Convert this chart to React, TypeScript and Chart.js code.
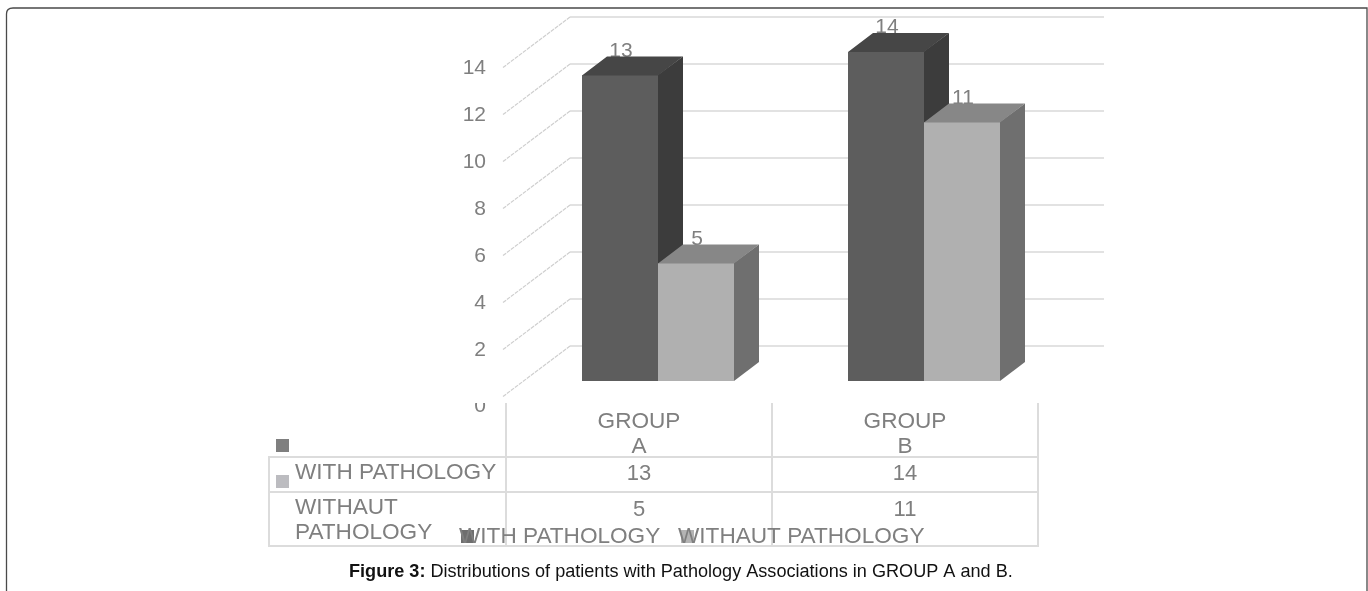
import React, { useEffect, useRef } from "react";
import { Chart, registerables } from "chart.js";

Chart.register(...registerables);

const categories = [["GROUP", "A"], ["GROUP", "B"]];
const withPathology = [13, 14];
const withoutPathology = [5, 11];
const seriesNames = ["WITH PATHOLOGY", "WITHAUT PATHOLOGY"];
const yTicks = [0, 2, 4, 6, 8, 10, 12, 14];

const FONT = '"Liberation Sans", Arial, sans-serif';
const GREY = "#7f7f7f";
const GRID = "#d9d9d9";
const DEPTH_X = 25;
const DEPTH_Y = 19;
const faces = [
  { top: "#464646", side: "#3c3c3c" },
  { top: "#878787", side: "#6f6f6f" },
];

const text = (ctx: any, s: string, x: number, y: number, font: string, color = GREY, align: any = "center") => {
  ctx.font = font;
  ctx.fillStyle = color;
  ctx.textAlign = align;
  ctx.textBaseline = "middle";
  ctx.fillText(s, x, y);
};

const poly = (ctx: any, pts: number[][], color: string) => {
  ctx.fillStyle = color;
  ctx.beginPath();
  pts.forEach(([x, y], i) => (i ? ctx.lineTo(x, y) : ctx.moveTo(x, y)));
  ctx.closePath();
  ctx.fill();
};

const scene = {
  id: "scene",
  beforeDatasetsDraw(chart: any) {
    const { ctx, scales } = chart;
    const y = scales.y;
    ctx.save();
    // back wall grid lines and their diagonals, taken from the value axis
    yTicks.forEach((v) => {
      const p = y.getPixelForValue(v);
      ctx.strokeStyle = GRID;
      ctx.lineWidth = 1.5;
      ctx.beginPath();
      ctx.moveTo(570, p - 35);
      ctx.lineTo(1104, p - 35);
      ctx.stroke();
      ctx.strokeStyle = "#cfcfcf";
      ctx.lineWidth = 1.2;
      ctx.setLineDash([4, 1]);
      ctx.beginPath();
      ctx.moveTo(570, p - 35);
      ctx.lineTo(503, p + 15.5);
      ctx.stroke();
      ctx.setLineDash([]);
    });
    // data labels sit behind the 3-D faces
    chart.data.datasets.forEach((ds: any, d: number) => {
      chart.getDatasetMeta(d).data.forEach((bar: any, i: number) => {
        text(ctx, String(ds.data[i]), bar.x + 1, bar.y - 24.5, `21px ${FONT}`);
      });
    });
    // side and top faces of each bar
    [0, 1].forEach((d) => {
      chart.getDatasetMeta(d).data.forEach((bar: any) => {
        const l = bar.x - bar.width / 2;
        const r = bar.x + bar.width / 2;
        const t = bar.y;
        const b = bar.base;
        poly(ctx, [[r - 1, t], [r + DEPTH_X, t - DEPTH_Y], [r + DEPTH_X, b - DEPTH_Y], [r, b], [r - 1, b]], faces[d].side);
        poly(ctx, [[l, t + 1], [l, t], [l + DEPTH_X, t - DEPTH_Y], [r + DEPTH_X, t - DEPTH_Y], [r, t], [r, t + 1]], faces[d].top);
      });
    });
    ctx.restore();
  },
  beforeDraw(chart: any) {
    const { ctx, width } = chart;
    ctx.save();
    // page frame
    ctx.strokeStyle = "#4a4a4a";
    ctx.lineWidth = 1.3;
    ctx.beginPath();
    ctx.moveTo(6.5, 591);
    ctx.lineTo(6.5, 14);
    ctx.quadraticCurveTo(6.5, 8, 13, 8);
    ctx.lineTo(width - 1, 8);
    ctx.lineTo(width - 1, 591);
    ctx.stroke();
    ctx.restore();
  },
  afterDraw(chart: any) {
    const { ctx, scales } = chart;
    const x = scales.x;
    ctx.save();
    // zero label, cut off at the top of the table
    ctx.save();
    ctx.beginPath();
    ctx.rect(440, 403, 80, 20);
    ctx.clip();
    text(ctx, "0", 480, 406, `21px ${FONT}`);
    ctx.restore();

    // data table
    ctx.strokeStyle = "#dcdcdc";
    ctx.lineWidth = 2;
    const colX = [506, 772, 1038];
    ctx.beginPath();
    colX.forEach((cx) => {
      ctx.moveTo(cx, 403);
      ctx.lineTo(cx, 546);
    });
    ctx.moveTo(269, 457);
    ctx.lineTo(269, 546);
    [457, 492, 546].forEach((ry) => {
      ctx.moveTo(268, ry);
      ctx.lineTo(1039, ry);
    });
    ctx.stroke();

    const rowFont = `22.6px ${FONT}`;
    const numFont = `22px ${FONT}`;
    text(ctx, seriesNames[0], 295, 473, rowFont, GREY, "left");
    text(ctx, "WITHAUT", 295, 507.5, rowFont, GREY, "left");
    text(ctx, "PATHOLOGY", 295, 533, rowFont, GREY, "left");
    [0, 1].forEach((i) => {
      const cx = x.getPixelForValue(i) - 19;
      text(ctx, String(withPathology[i]), cx, 473.5, numFont);
      text(ctx, String(withoutPathology[i]), cx, 509.5, numFont);
    });
    ctx.fillStyle = "#7f7f7f";
    ctx.fillRect(276, 439, 13, 13);
    ctx.fillStyle = "#bcbcc0";
    ctx.fillRect(276, 475, 13, 13);

    // legend, overlapping its markers as in the source
    ctx.fillStyle = "#6e6e6e";
    ctx.fillRect(461, 530, 13, 13);
    ctx.fillStyle = "#b4b4b4";
    ctx.fillRect(681, 530, 13, 13);
    text(ctx, seriesNames[0], 459, 537, rowFont, GREY, "left");
    text(ctx, seriesNames[1], 678, 537, rowFont, GREY, "left");

    // caption
    const bold = "Figure 3:";
    const rest = " Distributions of patients with Pathology Associations in GROUP A and B.";
    ctx.font = `bold 18.1px ${FONT}`;
    const bw = ctx.measureText(bold).width;
    text(ctx, bold, 349, 572, `bold 18.1px ${FONT}`, "#111", "left");
    text(ctx, rest, 349 + bw, 572, `18.1px ${FONT}`, "#111", "left");
    ctx.restore();
  },
};

export default function App() {
  const ref = useRef<HTMLCanvasElement>(null);
  useEffect(() => {
    document.body.style.margin = "0";
    const chart = new Chart(ref.current!, {
      type: "bar",
      data: {
        labels: categories as any,
        datasets: [
          { label: seriesNames[0], data: withPathology, backgroundColor: "#5d5d5d" },
          { label: seriesNames[1], data: withoutPathology, backgroundColor: "#b0b0b0" },
        ],
      },
      options: {
        animation: false,
        responsive: false,
        layout: { padding: { left: 0, right: 311, top: 52, bottom: 0 } },
        plugins: { legend: { display: false }, tooltip: { enabled: false }, title: { display: false } },
        datasets: { bar: { barPercentage: 1, categoryPercentage: 152 / 266 } },
        scales: {
          x: {
            grid: { display: false, drawTicks: false },
            border: { display: false },
            afterFit: (s: any) => { s.height = 210; },
            ticks: {
              color: GREY,
              font: { family: FONT, size: 22.6, lineHeight: 1.07 },
              labelOffset: -19,
              padding: 29,
              maxRotation: 0,
              autoSkip: false,
            },
          },
          y: {
            min: 0,
            max: 14,
            grid: { display: false, drawTicks: false },
            border: { display: false },
            afterFit: (s: any) => { s.width = 525; },
            ticks: {
              stepSize: 2,
              color: GREY,
              padding: 39,
              labelOffset: 16,
              font: { family: FONT, size: 21 },
              callback: (v: any) => (v === 0 ? "" : v),
            },
          },
        },
      },
      plugins: [scene],
    } as any);
    return () => chart.destroy();
  }, []);
  return <canvas ref={ref} width={1368} height={591} style={{ display: "block" }} />;
}
